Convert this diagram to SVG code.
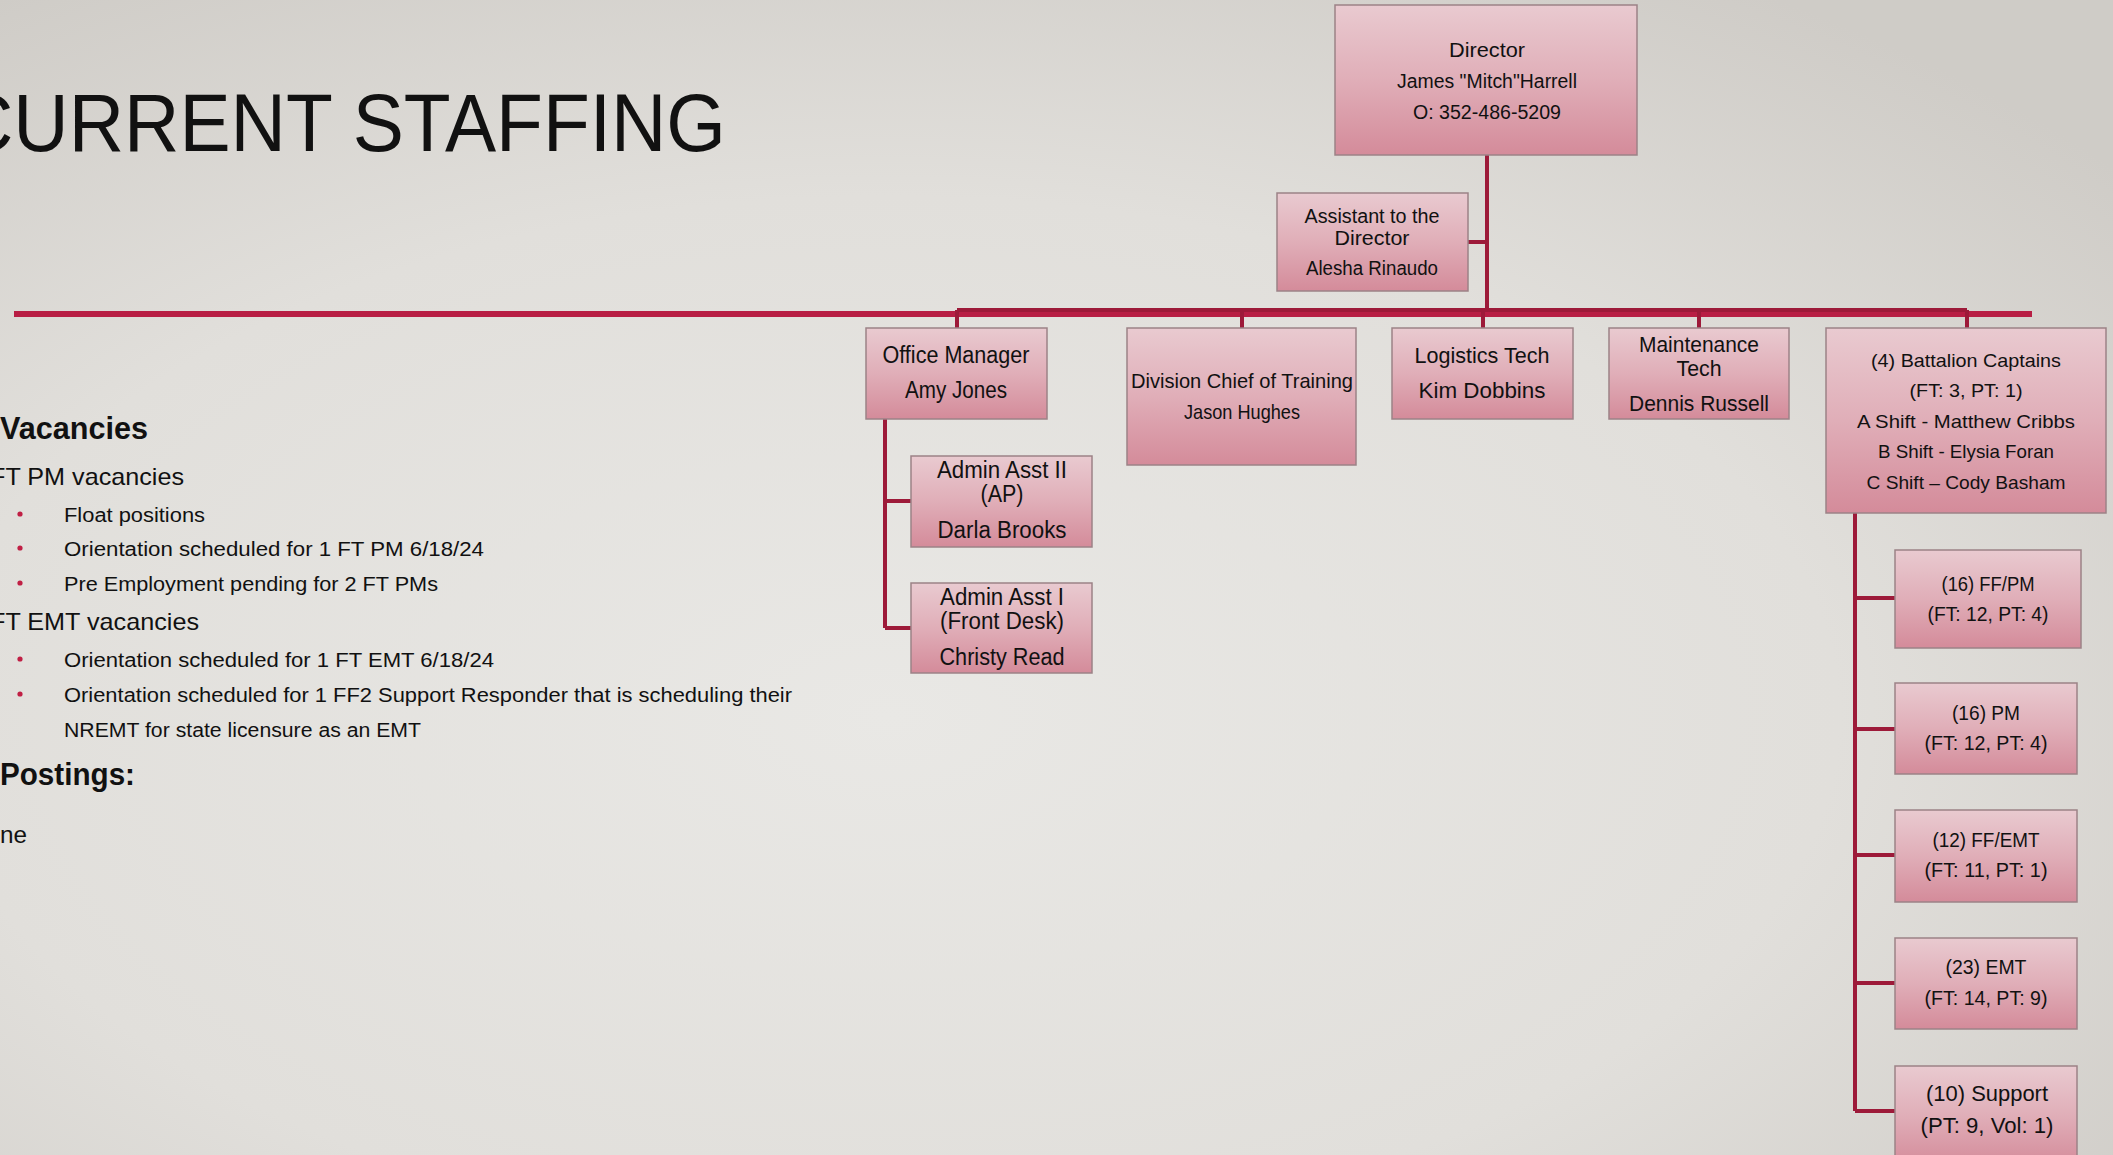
<svg xmlns="http://www.w3.org/2000/svg" width="2113" height="1155" viewBox="0 0 2113 1155">
<defs>
<radialGradient id="bg" cx="0.42" cy="0.62" r="0.75">
<stop offset="0" stop-color="#e9e8e5"/>
<stop offset="0.6" stop-color="#e1dfdb"/>
<stop offset="1" stop-color="#cfccc7"/>
</radialGradient>
<linearGradient id="box" x1="0" y1="0" x2="0" y2="1">
<stop offset="0" stop-color="#e9cad0"/>
<stop offset="0.5" stop-color="#e0aeb8"/>
<stop offset="1" stop-color="#d48b9a"/>
</linearGradient>
<style>
.n rect{fill:url(#box);stroke:#9c8287;stroke-width:1.5}
.n text{font-family:"Liberation Sans",Arial,sans-serif;fill:#111;text-anchor:middle}
.c{stroke:#9d1a39;stroke-width:4;fill:none}
.l{font-family:"Liberation Sans",Arial,sans-serif;fill:#111}
.b{fill:#c01f44}
</style>
</defs>
<rect width="2113" height="1155" fill="url(#bg)"/>
<text class="l" x="-42" y="151" font-size="81" textLength="768" lengthAdjust="spacingAndGlyphs">CURRENT STAFFING</text>
<rect x="14" y="311" width="2018" height="6" fill="#b81e44"/>
<g id="left-text">
<text class="l" x="0" y="439" font-size="31" font-weight="bold" textLength="148" lengthAdjust="spacingAndGlyphs">Vacancies</text>
<text class="l" x="-10" y="485" font-size="24" textLength="194" lengthAdjust="spacingAndGlyphs">FT PM vacancies</text>
<circle class="b" cx="20" cy="514" r="2.6"/>
<text class="l" x="64" y="522" font-size="20" textLength="141" lengthAdjust="spacingAndGlyphs">Float positions</text>
<circle class="b" cx="20" cy="548" r="2.6"/>
<text class="l" x="64" y="556" font-size="20" textLength="420" lengthAdjust="spacingAndGlyphs">Orientation scheduled for 1 FT PM 6/18/24</text>
<circle class="b" cx="20" cy="583" r="2.6"/>
<text class="l" x="64" y="591" font-size="20" textLength="374" lengthAdjust="spacingAndGlyphs">Pre Employment pending for 2 FT PMs</text>
<text class="l" x="-10" y="630" font-size="24" textLength="209" lengthAdjust="spacingAndGlyphs">FT EMT vacancies</text>
<circle class="b" cx="20" cy="659" r="2.6"/>
<text class="l" x="64" y="667" font-size="20" textLength="430" lengthAdjust="spacingAndGlyphs">Orientation scheduled for 1 FT EMT 6/18/24</text>
<circle class="b" cx="20" cy="694" r="2.6"/>
<text class="l" x="64" y="702" font-size="20" textLength="728" lengthAdjust="spacingAndGlyphs">Orientation scheduled for 1 FF2 Support Responder that is scheduling their</text>
<text class="l" x="64" y="737" font-size="20" textLength="357" lengthAdjust="spacingAndGlyphs">NREMT for state licensure as an EMT</text>
<text class="l" x="0" y="785" font-size="31" font-weight="bold" textLength="135" lengthAdjust="spacingAndGlyphs">Postings:</text>
<text class="l" x="0" y="843" font-size="24" textLength="27" lengthAdjust="spacingAndGlyphs">ne</text>
</g>
<g id="connectors">
<path class="c" d="M1487 155V310M1468 242H1487M957 310H1967M957 310V328M1242 310V328M1483 310V328M1699 310V328M1967 310V328"/>
<path class="c" d="M885 419V628M885 501H911M885 628H911"/>
<path class="c" d="M1855 513V1111M1855 598H1895M1855 729H1895M1855 855H1895M1855 983H1895M1855 1111H1895"/>
</g>
<g id="director" class="n"><rect x="1335" y="5" width="302" height="150"/>
<text x="1487" y="57" font-size="20" textLength="76" lengthAdjust="spacingAndGlyphs">Director</text>
<text x="1487" y="88" font-size="20" textLength="180" lengthAdjust="spacingAndGlyphs">James "Mitch"Harrell</text>
<text x="1487" y="119" font-size="20" textLength="148" lengthAdjust="spacingAndGlyphs">O: 352-486-5209</text></g>
<g id="assistant" class="n"><rect x="1277" y="193" width="191" height="98"/>
<text x="1372" y="223" font-size="20" textLength="135" lengthAdjust="spacingAndGlyphs">Assistant to the</text>
<text x="1372" y="245" font-size="20" textLength="75" lengthAdjust="spacingAndGlyphs">Director</text>
<text x="1372" y="275" font-size="20" textLength="132" lengthAdjust="spacingAndGlyphs">Alesha Rinaudo</text></g>
<g id="office-manager" class="n"><rect x="866" y="328" width="181" height="91"/>
<text x="956" y="363" font-size="23" textLength="147" lengthAdjust="spacingAndGlyphs">Office Manager</text>
<text x="956" y="398" font-size="23" textLength="102" lengthAdjust="spacingAndGlyphs">Amy Jones</text></g>
<g id="division-chief" class="n"><rect x="1127" y="328" width="229" height="137"/>
<text x="1242" y="388" font-size="21" textLength="222" lengthAdjust="spacingAndGlyphs">Division Chief of Training</text>
<text x="1242" y="419" font-size="21" textLength="116" lengthAdjust="spacingAndGlyphs">Jason Hughes</text></g>
<g id="logistics" class="n"><rect x="1392" y="328" width="181" height="91"/>
<text x="1482" y="363" font-size="22" textLength="135" lengthAdjust="spacingAndGlyphs">Logistics Tech</text>
<text x="1482" y="398" font-size="22" textLength="127" lengthAdjust="spacingAndGlyphs">Kim Dobbins</text></g>
<g id="maintenance" class="n"><rect x="1609" y="328" width="180" height="91"/>
<text x="1699" y="352" font-size="22" textLength="120" lengthAdjust="spacingAndGlyphs">Maintenance</text>
<text x="1699" y="376" font-size="22" textLength="45" lengthAdjust="spacingAndGlyphs">Tech</text>
<text x="1699" y="411" font-size="22" textLength="140" lengthAdjust="spacingAndGlyphs">Dennis Russell</text></g>
<g id="battalion" class="n"><rect x="1826" y="328" width="280" height="185"/>
<text x="1966" y="367" font-size="19" textLength="190" lengthAdjust="spacingAndGlyphs">(4) Battalion Captains</text>
<text x="1966" y="397" font-size="19" textLength="113" lengthAdjust="spacingAndGlyphs">(FT: 3, PT: 1)</text>
<text x="1966" y="428" font-size="19" textLength="218" lengthAdjust="spacingAndGlyphs">A Shift - Matthew Cribbs</text>
<text x="1966" y="458" font-size="19" textLength="176" lengthAdjust="spacingAndGlyphs">B Shift - Elysia Foran</text>
<text x="1966" y="489" font-size="19" textLength="199" lengthAdjust="spacingAndGlyphs">C Shift – Cody Basham</text></g>
<g id="admin-asst-2" class="n"><rect x="911" y="456" width="181" height="91"/>
<text x="1002" y="478" font-size="23" textLength="130" lengthAdjust="spacingAndGlyphs">Admin Asst II</text>
<text x="1002" y="502" font-size="23" textLength="43" lengthAdjust="spacingAndGlyphs">(AP)</text>
<text x="1002" y="538" font-size="23" textLength="129" lengthAdjust="spacingAndGlyphs">Darla Brooks</text></g>
<g id="admin-asst-1" class="n"><rect x="911" y="583" width="181" height="90"/>
<text x="1002" y="605" font-size="23" textLength="124" lengthAdjust="spacingAndGlyphs">Admin Asst I</text>
<text x="1002" y="629" font-size="23" textLength="124" lengthAdjust="spacingAndGlyphs">(Front Desk)</text>
<text x="1002" y="665" font-size="23" textLength="125" lengthAdjust="spacingAndGlyphs">Christy Read</text></g>
<g id="ff-pm" class="n"><rect x="1895" y="550" width="186" height="98"/>
<text x="1988" y="591" font-size="20" textLength="93" lengthAdjust="spacingAndGlyphs">(16) FF/PM</text>
<text x="1988" y="621" font-size="20" textLength="121" lengthAdjust="spacingAndGlyphs">(FT: 12, PT: 4)</text></g>
<g id="pm" class="n"><rect x="1895" y="683" width="182" height="91"/>
<text x="1986" y="720" font-size="20" textLength="68" lengthAdjust="spacingAndGlyphs">(16) PM</text>
<text x="1986" y="750" font-size="20" textLength="123" lengthAdjust="spacingAndGlyphs">(FT: 12, PT: 4)</text></g>
<g id="ff-emt" class="n"><rect x="1895" y="810" width="182" height="92"/>
<text x="1986" y="847" font-size="20" textLength="107" lengthAdjust="spacingAndGlyphs">(12) FF/EMT</text>
<text x="1986" y="877" font-size="20" textLength="123" lengthAdjust="spacingAndGlyphs">(FT: 11, PT: 1)</text></g>
<g id="emt" class="n"><rect x="1895" y="938" width="182" height="91"/>
<text x="1986" y="974" font-size="20" textLength="81" lengthAdjust="spacingAndGlyphs">(23) EMT</text>
<text x="1986" y="1005" font-size="20" textLength="123" lengthAdjust="spacingAndGlyphs">(FT: 14, PT: 9)</text></g>
<g id="support" class="n"><rect x="1895" y="1066" width="182" height="100"/>
<text x="1987" y="1101" font-size="22" textLength="122" lengthAdjust="spacingAndGlyphs">(10) Support</text>
<text x="1987" y="1133" font-size="22" textLength="133" lengthAdjust="spacingAndGlyphs">(PT: 9, Vol: 1)</text></g>
</svg>
